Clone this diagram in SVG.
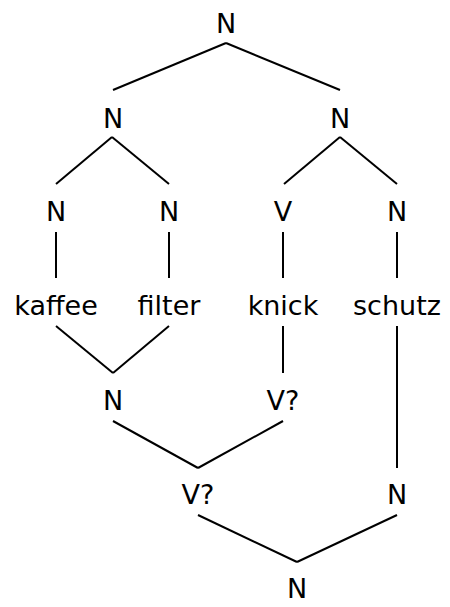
<svg xmlns="http://www.w3.org/2000/svg" width="450" height="607" viewBox="0 0 450 607">
<style>
text{font-family:"DejaVu Sans",sans-serif;font-size:27px;fill:#000;text-anchor:middle}
line{stroke:#000;stroke-width:2}
</style>
<rect width="450" height="607" fill="#fff"/>
<g id="connectors">
<line x1="226" y1="43" x2="113" y2="90"/>
<line x1="226" y1="43" x2="340" y2="90"/>
<line x1="112" y1="137" x2="56" y2="184"/>
<line x1="112" y1="137" x2="169" y2="184"/>
<line x1="340" y1="137" x2="284" y2="184"/>
<line x1="340" y1="137" x2="397" y2="184"/>
<line x1="56" y1="232" x2="56" y2="278"/>
<line x1="169" y1="232" x2="169" y2="278"/>
<line x1="283" y1="232" x2="283" y2="278"/>
<line x1="397" y1="232" x2="397" y2="278"/>
<line x1="56" y1="326" x2="113" y2="373"/>
<line x1="169" y1="326" x2="113" y2="373"/>
<line x1="283" y1="326" x2="283" y2="373"/>
<line x1="397" y1="326" x2="397" y2="468"/>
<line x1="113" y1="421" x2="198" y2="468"/>
<line x1="283" y1="421" x2="198" y2="468"/>
<line x1="198" y1="515" x2="297" y2="562"/>
<line x1="397" y1="515" x2="297" y2="562"/>
</g>
<g id="n-root"><text x="226" y="33">N</text></g>
<g id="n-l"><text x="113" y="128">N</text></g>
<g id="n-r"><text x="340" y="128">N</text></g>
<g id="n-ll"><text x="56" y="221">N</text></g>
<g id="n-lr"><text x="169" y="221">N</text></g>
<g id="v-rl"><text x="283" y="221">V</text></g>
<g id="n-rr"><text x="397" y="221">N</text></g>
<g id="w-kaffee"><text x="56" y="315">kaffee</text></g>
<g id="w-filter"><text x="169" y="315">filter</text></g>
<g id="w-knick"><text x="283" y="315">knick</text></g>
<g id="w-schutz"><text x="397" y="315">schutz</text></g>
<g id="n-kf"><text x="113" y="410">N</text></g>
<g id="v-knick"><text x="283" y="410">V?</text></g>
<g id="v-mid"><text x="198" y="504">V?</text></g>
<g id="n-schutz"><text x="397" y="504">N</text></g>
<g id="n-bottom"><text x="297" y="598">N</text></g>
</svg>
